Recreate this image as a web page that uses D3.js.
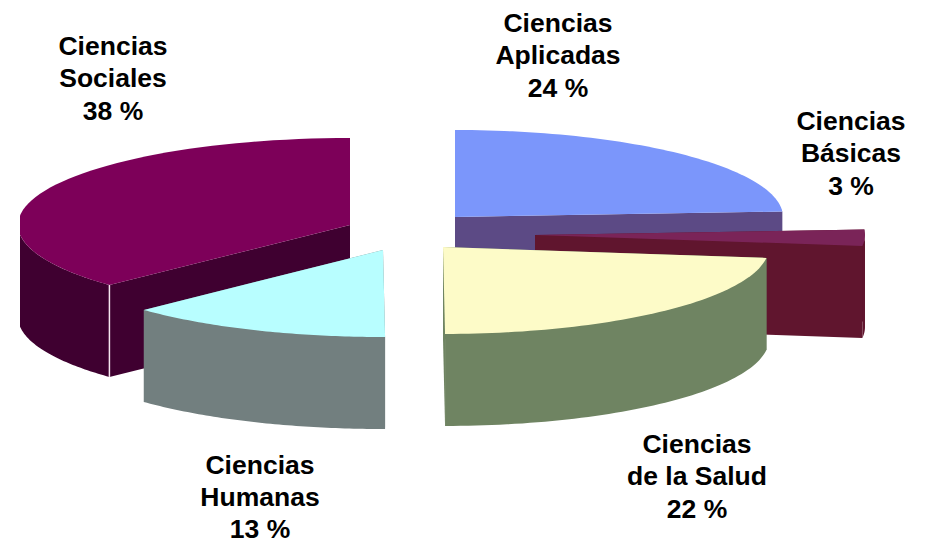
<!DOCTYPE html>
<html>
<head>
<meta charset="utf-8">
<script src="https://cdnjs.cloudflare.com/ajax/libs/d3/7.8.5/d3.min.js"></script>
<style>
html, body { margin: 0; padding: 0; background: #fff; }
svg { display: block; }
text { font-family: "Liberation Sans", Arial, sans-serif; font-weight: bold; font-size: 26.5px; fill: #000; text-anchor: middle; }
</style>
</head>
<body>
<script>
var categories = ["Ciencias Aplicadas", "Ciencias Básicas", "Ciencias de la Salud", "Ciencias Humanas", "Ciencias Sociales"];
// what the labels say
var percents = [24, 3, 22, 13, 38];
// the wedges as measured on the picture, they differ a little from the labels
var shares = [24, 3, 22.9, 13, 37.1];

var topColors = ["#7b96fb", "#7a2458", "#fdfbc8", "#b8feff", "#7d0059"];
var wallColors = ["#5c4a85", "#60152e", "#6f8462", "#727f7f", "#3f0030"];

// layout of each exploded wedge
var apexX = [455, 535, 443, 383, 350];
var apexY = [217, 235, 247, 250, 225];
var radiusX = [328, 330, 326, 330, 332];
var radiusY = 87;
var depth = 92;
var labelX = [558, 851, 697, 260, 113];
var labelY = [32, 130, 453, 473.5, 55];
var lineGap = 32.3;
var drawOrder = [4, 0, 1, 3, 2];

var width = 926,
    height = 544;

var svg = d3.select("body")
            .append("svg")
            .attr("width", width)
            .attr("height", height);

svg.append("clipPath")
    .attr("id", "plot")
    .append("rect")
    .attr("x", 20)
    .attr("y", 0)
    .attr("width", width)
    .attr("height", height);

var pie = d3.pie().sort(null);
var slices = pie(shares);
var line = d3.line();

// point on the squashed rim of wedge i
function rim(i, a, drop) {
    return [apexX[i] + radiusX[i] * Math.sin(a), apexY[i] - radiusY * Math.cos(a) + drop];
}

function rimPoints(i, a0, a1, drop) {
    var n = 60;
    return d3.range(n + 1).map(function (k) {
        return rim(i, a0 + (a1 - a0) * k / n, drop);
    });
}

var pieGroup = svg.append("g").attr("clip-path", "url(#plot)");

drawOrder.forEach(function (i) {
    var s = slices[i];
    var g = pieGroup.append("g");
    var apex = [apexX[i], apexY[i]];
    var apexLow = [apexX[i], apexY[i] + depth];

    // cut faces
    [s.startAngle, s.endAngle].forEach(function (a) {
        g.append("path")
            .attr("d", line([apex, rim(i, a, 0), rim(i, a, depth), apexLow]) + "Z")
            .attr("fill", wallColors[i]);
    });

    // outer wall, only the front half of the ellipse shows
    var a0 = Math.max(s.startAngle, Math.PI / 2);
    var a1 = Math.min(s.endAngle, Math.PI * 1.5);
    if (a1 > a0) {
        g.append("path")
            .attr("d", line(rimPoints(i, a0, a1, 0).concat(rimPoints(i, a1, a0, depth))) + "Z")
            .attr("fill", wallColors[i]);
    }

    // top face
    g.append("path")
        .attr("d", line([apex].concat(rimPoints(i, s.startAngle, s.endAngle, 0))) + "Z")
        .attr("fill", topColors[i]);
});

// pale seam at the front corner of the big wedge
var seamAngle = slices[4].startAngle;
pieGroup.append("path")
    .attr("d", line([rim(4, seamAngle, 0), rim(4, seamAngle, depth)]))
    .attr("stroke", "#f6e6f0")
    .attr("stroke-width", 1.5)
    .attr("fill", "none");

var labels = svg.append("g")
                .selectAll("text")
                .data(categories)
                .enter()
                .append("text");

labels.each(function (d, i) {
    var cut = d.indexOf(" ");
    var rows = [d.slice(0, cut), d.slice(cut + 1), percents[i] + " %"];
    d3.select(this)
        .selectAll("tspan")
        .data(rows)
        .enter()
        .append("tspan")
        .attr("x", labelX[i])
        .attr("y", function (r, k) { return labelY[i] + k * lineGap; })
        .text(function (r) { return r; });
});
</script>
</body>
</html>
